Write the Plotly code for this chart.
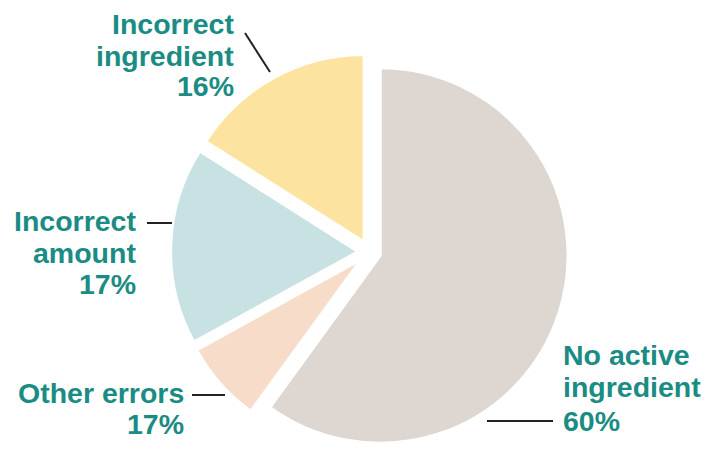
import plotly.graph_objects as go

W, H = 721, 451

# ---- data ----
categories = ["No active ingredient", "Other errors", "Incorrect amount", "Incorrect ingredient"]
slice_values = [60, 7, 17, 16]
percent_labels = ["60%", "17%", "17%", "16%"]
slice_colors = ["#ddd6d1", "#f8dcca", "#c8e2e4", "#fce4a0"]

TEAL = "#1a8c84"
FONT = "Liberation Sans, Arial, sans-serif"


def px(x):
    return x / W


def py(y):
    return 1 - y / H


fig = go.Figure()

fig.add_trace(go.Pie(
    labels=categories,
    values=slice_values,
    sort=False,
    direction="clockwise",
    rotation=0,
    pull=[0.06, 0.06, 0.06, 0.06],
    marker=dict(colors=slice_colors, line=dict(color="white", width=3)),
    textinfo="none",
    hoverinfo="label+percent",
    showlegend=False,
    domain=dict(x=[0.2366, 0.7886], y=[0, 398 / H]),
))

# label blocks: (lines, anchor, x_px, baselines)
label_blocks = [
    (["Incorrect", "ingredient", percent_labels[3]], "right", 235, [34, 66, 96]),
    (["Incorrect", "amount", percent_labels[2]], "right", 137, [231, 263, 294]),
    (["Other errors", percent_labels[1]], "right", 185, [403, 434]),
    (["No active", "ingredient", percent_labels[0]], "left", 562, [365, 397, 431]),
]

annotations = []
for lines, anchor, xp, baselines in label_blocks:
    for line, b in zip(lines, baselines):
        annotations.append(dict(
            x=px(xp), y=py(b - 10), xref="paper", yref="paper",
            text="<b>" + line + "</b>", showarrow=False,
            xanchor=anchor, yanchor="middle", borderpad=0,
            font=dict(family=FONT, size=28.5, color=TEAL),
        ))

leaders = [
    ((245, 33), (270, 72)),
    ((147, 223), (172, 223)),
    ((192, 395), (225, 395)),
    ((487, 421), (553, 421)),
]
shapes = []
for (x0, y0), (x1, y1) in leaders:
    shapes.append(dict(type="line", xref="paper", yref="paper",
                       x0=px(x0), y0=py(y0), x1=px(x1), y1=py(y1),
                       line=dict(color="#222222", width=2)))

fig.update_layout(
    width=W, height=H,
    margin=dict(l=0, r=0, t=0, b=0),
    paper_bgcolor="white",
    plot_bgcolor="white",
    annotations=annotations,
    shapes=shapes,
)

fig.write_html(
    "out.html",
    config={"displayModeBar": False},
    post_script="document.body.style.margin='0';document.body.style.overflow='hidden';",
)
